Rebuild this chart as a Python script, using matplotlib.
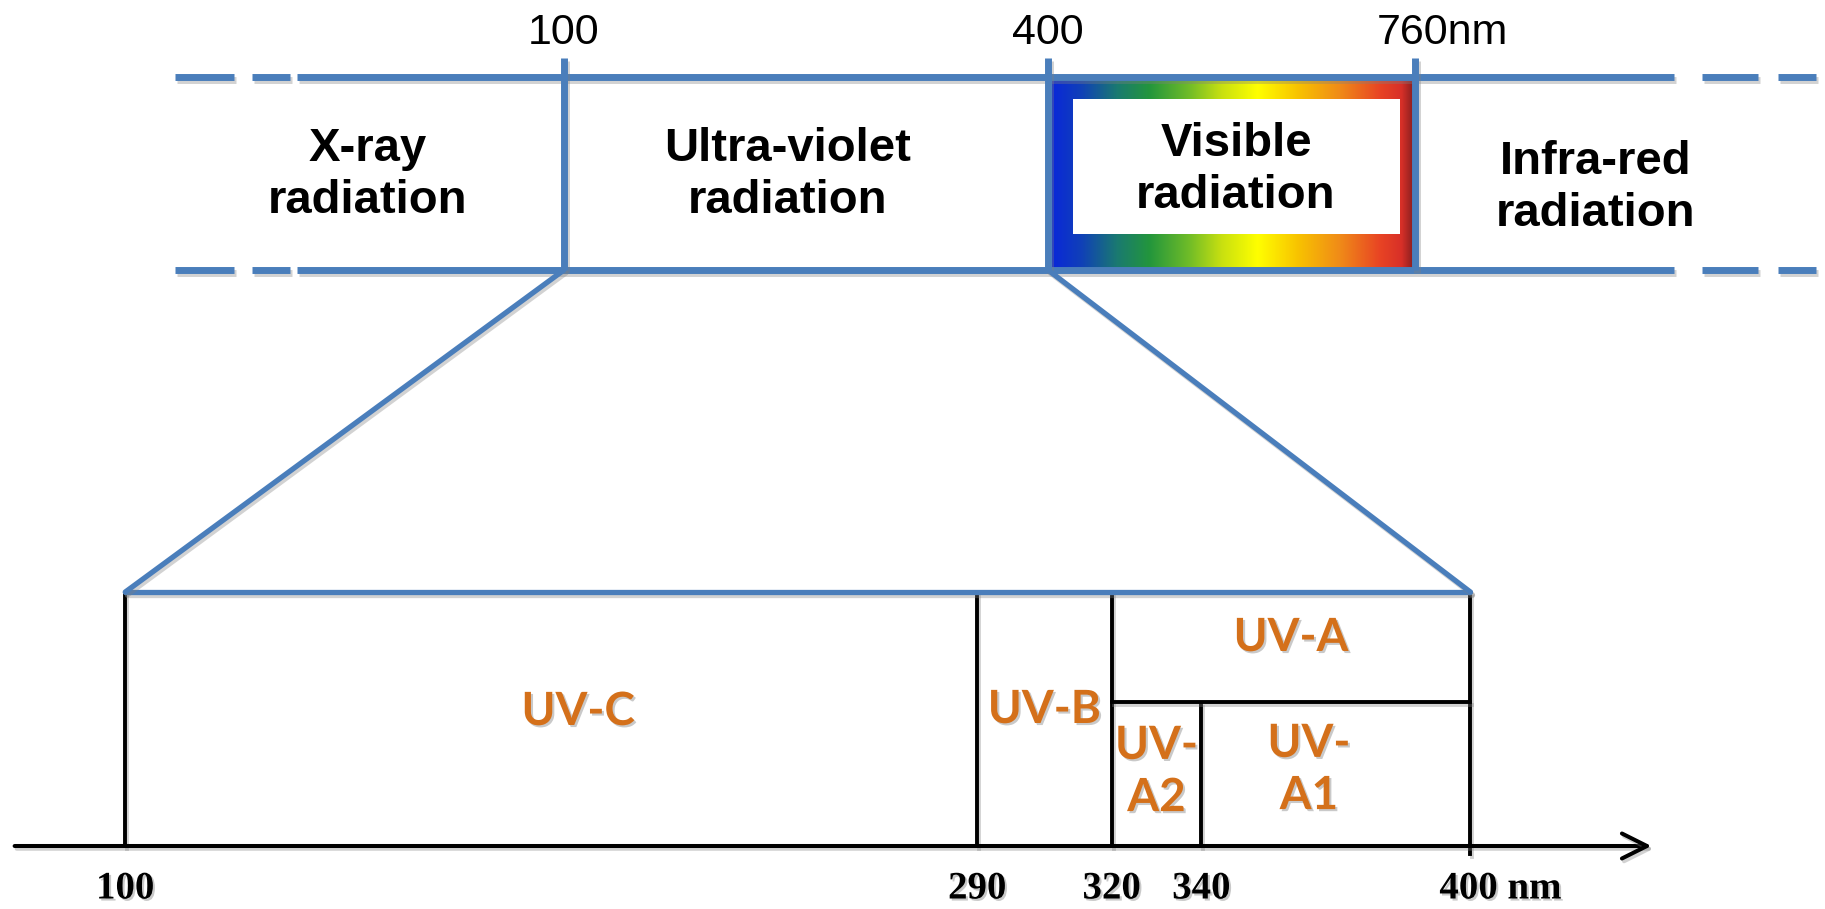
import numpy as np
import matplotlib
matplotlib.use("Agg")
import matplotlib.pyplot as plt
from matplotlib.colors import LinearSegmentedColormap
from matplotlib.patches import Rectangle, FancyArrowPatch, ConnectionPatch
import matplotlib.patheffects as pe
import matplotlib.transforms as mtransforms

# ---------------- data ----------------
band_edges_nm = [100, 400, 760]
band_edge_labels = ["100", "400", "760nm"]
band_names = ["X-ray\nradiation", "Ultra-violet\nradiation",
              "Visible\nradiation", "Infra-red\nradiation"]

uv_edges_nm = [100, 290, 320, 340, 400]
uv_tick_labels = ["100", "290", "320", "340", "400 nm"]
uv_band_names = ["UV-C", "UV-B", "UV-A", "UV-\nA2", "UV-\nA1"]
uv_band_lo = [100, 290, 320, 320, 340]
uv_band_hi = [290, 320, 400, 340, 400]

# ---------------- layout ----------------
W, H = 1825, 909
BLUE = "#4a7ebb"
ORANGE = "#d4701a"
TOP_Y, BOT_Y = 77, 270
EDGE_X = [564, 1048, 1415]                 # schematic positions of band edges
NAME_X = [368, 788, 1236, 1596]
NAME_Y = [175, 175, 170, 188]
SOLID_SPAN = (297, 1674)
DASHES = [(175, 234), (252, 290), (1702, 1758), (1778, 1816)]
VIS_BOX = (1052, 1413, 79, 270)
WHITE_BOX = (1073, 1400, 99, 234)

NM_SPAN = (72.06, 479.09)                  # bottom diagram linear nm scale
BOX_TOP, SPLIT_Y, AXIS_Y = 592, 702, 846
AXIS_EXT = (74.7, 441.0)
LABEL_NM = [201, 305, 360, 330, 364]
LABEL_Y = [712, 710, 638, 772, 770]

fig = plt.figure(figsize=(W / 100, H / 100), dpi=100)
ax = fig.add_axes([0, 0, 1, 1])
ax.set_xlim(0, W)
ax.set_ylim(H, 0)
ax.axis("off")

axb = fig.add_axes([0, 0, 1, 1])
axb.set_xlim(*NM_SPAN)
axb.set_ylim(H, 0)
axb.axis("off")
axb.patch.set_alpha(0)

shadow = [pe.SimpleLineShadow(offset=(1.5, -2), shadow_color="0.5", alpha=0.35), pe.Normal()]
tshadow = [pe.withSimplePatchShadow(offset=(1.5, -1.5), shadow_rgbFace="0.4", alpha=0.35)]

# ---------------- top band ----------------
for y in (TOP_Y, BOT_Y):
    ax.plot(SOLID_SPAN, [y, y], color=BLUE, lw=5, solid_capstyle="butt",
            path_effects=shadow, zorder=3)
    for a, b in DASHES:
        ax.plot([a, b], [y, y], color=BLUE, lw=5, solid_capstyle="butt",
                path_effects=shadow, zorder=3)

# visible gradient
cmap = LinearSegmentedColormap.from_list("vis", [
    (0.00, "#0a28d8"), (0.08, "#1040b8"), (0.18, "#1a7a70"), (0.27, "#23963c"),
    (0.38, "#70bc28"), (0.47, "#c8e010"), (0.57, "#ffff00"), (0.68, "#f8c400"),
    (0.80, "#f08a18"), (0.91, "#e84424"), (0.97, "#d83028"), (1.00, "#902020")])
grad = np.linspace(0, 1, 512)[None, :]
x0, x1, y0, y1 = VIS_BOX
ax.imshow(grad, cmap=cmap, extent=[x0, x1, y1, y0], aspect="auto", zorder=2,
          interpolation="bilinear")
wx0, wx1, wy0, wy1 = WHITE_BOX
ax.add_patch(Rectangle((wx0, wy0), wx1 - wx0, wy1 - wy0, facecolor="white",
                       edgecolor="none", zorder=2.5))

for x, lab in zip(EDGE_X, band_edge_labels):
    ax.plot([x, x], [58, BOT_Y], color=BLUE, lw=5, solid_capstyle="butt",
            path_effects=shadow, zorder=4)
    if lab.endswith("nm"):
        tr = mtransforms.offset_copy(ax.transData, fig=fig, x=-38, y=0, units="dots")
        ax.text(x, 33, lab, ha="left", va="center", fontsize=31,
                family="Liberation Sans", transform=tr, zorder=5)
    else:
        ax.text(x, 33, lab, ha="center", va="center", fontsize=31,
                family="Liberation Sans", zorder=5)

for x, y, name in zip(NAME_X, NAME_Y, band_names):
    ax.text(x, y, name, ha="center", va="center", fontsize=34, fontweight="bold",
            family="Liberation Sans", linespacing=1.25, zorder=5)

# ---------------- zoom lines ----------------
for top_x, nm in ((EDGE_X[0], uv_edges_nm[0]), (EDGE_X[1], uv_edges_nm[-1])):
    con = ConnectionPatch(xyA=(top_x, BOT_Y), coordsA=ax.transData,
                          xyB=(nm, BOX_TOP), coordsB=axb.transData,
                          color=BLUE, lw=3.8, path_effects=shadow, zorder=3)
    fig.add_artist(con)

axb.plot([uv_edges_nm[0], uv_edges_nm[-1]], [BOX_TOP, BOX_TOP], color=BLUE, lw=3.8,
         solid_capstyle="round", path_effects=shadow, zorder=3)

# ---------------- bottom UV diagram ----------------
for v in uv_edges_nm:
    top = SPLIT_Y if v == 340 else BOX_TOP
    bottom = AXIS_Y + 8 if v == 400 else AXIS_Y
    axb.plot([v, v], [top + 2, bottom], color="black", lw=2.8, path_effects=shadow, zorder=2)
axb.plot([320, 400], [SPLIT_Y, SPLIT_Y], color="black", lw=2.8, path_effects=shadow, zorder=2)

arrow = FancyArrowPatch((AXIS_EXT[0], AXIS_Y), (AXIS_EXT[1], AXIS_Y),
                        transform=axb.transData,
                        arrowstyle="->,head_length=0.9,head_width=0.45",
                        mutation_scale=20, color="black", lw=2.9,
                        path_effects=shadow, zorder=2)
axb.add_patch(arrow)

for v, lab in zip(uv_edges_nm, uv_tick_labels):
    if lab.endswith("nm"):
        tr = mtransforms.offset_copy(axb.transData, fig=fig, x=-31, y=0, units="dots")
        axb.text(v, 889, lab, ha="left", va="center", fontsize=28, fontweight="bold",
                 family="Liberation Serif", transform=tr, path_effects=tshadow)
    else:
        axb.text(v, 889, lab, ha="center", va="center", fontsize=28, fontweight="bold",
                 family="Liberation Serif", path_effects=tshadow)

for x, y, name in zip(LABEL_NM, LABEL_Y, uv_band_names):
    axb.text(x, y, name, ha="center", va="center", fontsize=33, fontweight="bold",
             family="Lato", color=ORANGE, linespacing=1.3, path_effects=tshadow, zorder=5)

fig.savefig("out.png", dpi=100)
